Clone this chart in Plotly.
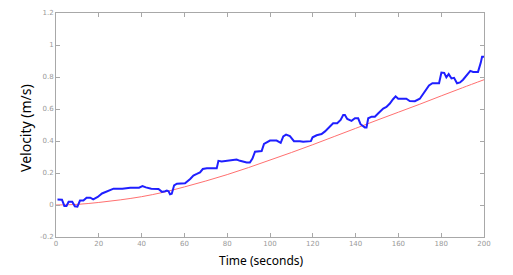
import plotly.graph_objects as go

# Measured velocity (blue)
meas_t = [0.7, 2.8, 3.9, 4.9, 5.9, 7.6, 8.8, 10, 11.2, 12.8, 14.3, 16, 17.4, 19.5, 21.5, 23.3,
          25.3, 26.9, 31, 34.7, 38.8, 40.4, 42, 44.5, 47.9, 49.5, 51, 51.8, 52.6, 53.3, 54.1,
          55.2, 56.5, 58, 60.3, 62.7, 64.2, 65.8, 67.3, 68.6, 70.5, 75.1, 75.9, 77.4, 79.7,
          82.9, 84.4, 86, 89.1, 90.6, 91.8, 93, 95.3, 96.1, 97.2, 100, 103.1, 105, 106.2,
          107.5, 109.3, 111.2, 114, 115.5, 119.1, 119.9, 121.8, 124.1, 125.7, 126.5, 128,
          129.5, 131.4, 133, 134.2, 135, 136.1, 138.1, 139.7, 141.2, 142.3, 144.3, 145.1,
          145.9, 147.5, 149, 150.5, 152.9, 154.4, 156, 157.5, 158.7, 159.9, 163.7, 165.3,
          167.7, 170, 171.5, 172.8, 174.3, 175.9, 179, 180.1, 181.4, 182.4, 183.5, 184.8,
          186, 187.4, 188.8, 190.2, 191.8, 193.6, 194.9, 197.2, 198.5, 199.1, 200]
meas_v = [0.034, 0.033, -0.006, -0.006, 0.02, 0.02, -0.008, -0.01, 0.028, 0.028, 0.046, 0.046,
          0.035, 0.05, 0.072, 0.082, 0.094, 0.102, 0.102, 0.108, 0.108, 0.118, 0.11, 0.102,
          0.1, 0.082, 0.086, 0.09, 0.086, 0.067, 0.07, 0.123, 0.133, 0.136, 0.136, 0.163,
          0.184, 0.194, 0.204, 0.225, 0.229, 0.229, 0.276, 0.272, 0.276, 0.282, 0.284, 0.276,
          0.266, 0.266, 0.29, 0.333, 0.337, 0.337, 0.382, 0.403, 0.403, 0.389, 0.429, 0.44,
          0.43, 0.399, 0.399, 0.395, 0.399, 0.423, 0.436, 0.444, 0.46, 0.47, 0.49, 0.511,
          0.511, 0.532, 0.562, 0.562, 0.538, 0.526, 0.542, 0.542, 0.505, 0.485, 0.485, 0.542,
          0.552, 0.552, 0.572, 0.603, 0.613, 0.634, 0.661, 0.679, 0.664, 0.664, 0.65, 0.649,
          0.664, 0.695, 0.716, 0.747, 0.761, 0.761, 0.828, 0.826, 0.798, 0.818, 0.791, 0.795,
          0.761, 0.766, 0.783, 0.808, 0.838, 0.832, 0.832, 0.89, 0.926, 0.926]

# Model velocity (red)
model_t = [0, 10, 20, 30, 40, 50, 60, 70, 80, 90, 100, 110, 120, 130, 140, 150, 160, 170, 180, 190, 200]
model_v = [0, 0.004, 0.016, 0.032, 0.052, 0.079, 0.113, 0.15, 0.19, 0.234, 0.281, 0.328, 0.377,
           0.428, 0.479, 0.53, 0.58, 0.63, 0.682, 0.733, 0.783]

x_ticks = [0, 20, 40, 60, 80, 100, 120, 140, 160, 180, 200]
y_ticks = [-0.2, 0, 0.2, 0.4, 0.6, 0.8, 1.0, 1.2]
y_tick_text = ["-0.2", "0", "0.2", "0.4", "0.6", "0.8", "1", "1.2"]

fig = go.Figure()
fig.add_trace(go.Scatter(x=model_t, y=model_v, mode="lines",
                         line=dict(color="#ff7070", width=1, shape="spline"),
                         showlegend=False, hoverinfo="skip"))
fig.add_trace(go.Scatter(x=meas_t, y=meas_v, mode="lines",
                         line=dict(color="#1f1fff", width=2), showlegend=False))

axis_common = dict(showline=True, linecolor="#a8a8a8", linewidth=1, mirror="ticks",
                   ticks="inside", ticklen=4, tickcolor="#a8a8a8", showgrid=False, zeroline=False,
                   tickfont=dict(family="DejaVu Sans", size=7, color="#999999"))

W, H = 513, 275
# plot area in pixels: x 56..484, y 9..237
PL, PR, PT, PB = 56, 484, 9, 237


def px_to_paper(px, py):
    return (px - PL) / (PR - PL), (PB - py) / (PB - PT)


tx, ty = px_to_paper(261, 261)
vx, vy = px_to_paper(26, 126)

fig.update_layout(
    width=W, height=H,
    margin=dict(l=PL, r=W - PR, t=PT, b=H - PB),
    paper_bgcolor="white", plot_bgcolor="white",
    xaxis=dict(range=[0, 200], tickvals=x_ticks, **axis_common),
    yaxis=dict(range=[-0.2, 1.2], tickvals=y_ticks, ticktext=y_tick_text, **axis_common),
    annotations=[
        dict(text="Time (seconds)", x=tx, y=ty, xref="paper", yref="paper",
             xanchor="center", yanchor="middle", showarrow=False,
             font=dict(family="Noto Sans", size=12, color="black")),
        dict(text="Velocity (m/s)", x=vx, y=vy, xref="paper", yref="paper",
             xanchor="center", yanchor="middle", showarrow=False, textangle=-90,
             font=dict(family="Noto Sans", size=14, color="black")),
    ],
)

fig.write_html("out.html", config={"displayModeBar": False},
               post_script="document.body.style.margin='0';document.body.style.overflow='hidden';")
